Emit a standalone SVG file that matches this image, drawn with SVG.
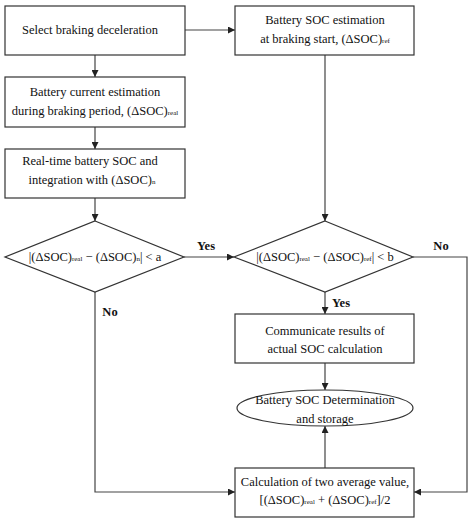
<svg xmlns="http://www.w3.org/2000/svg" width="474" height="521" viewBox="0 0 474 521">
<style>
.n{fill:#fff;stroke:#333;stroke-width:1.2}
.c{fill:none;stroke:#444;stroke-width:1.2}
text{font-family:"Liberation Serif","DejaVu Serif",serif;font-size:12.5px;fill:#111;text-anchor:middle}
.s{font-size:7px}
.b{font-weight:bold}
</style>
<defs>
<marker id="a" viewBox="0 0 10 10" refX="10" refY="5" markerWidth="7" markerHeight="7" markerUnits="userSpaceOnUse" orient="auto">
<path d="M0,0L10,5L0,10z" fill="#222"/>
</marker>
</defs>
<g id="connectors">
<path class="c" d="M185,30H235" marker-end="url(#a)"/>
<path class="c" d="M95,55V77" marker-end="url(#a)"/>
<path class="c" d="M95,127V149" marker-end="url(#a)"/>
<path class="c" d="M95,198V221" marker-end="url(#a)"/>
<path class="c" d="M325,55V221" marker-end="url(#a)"/>
<path class="c" d="M184,257H234" marker-end="url(#a)"/>
<path class="c" d="M325,292V314" marker-end="url(#a)"/>
<path class="c" d="M413,257H467V492H414" marker-end="url(#a)"/>
<path class="c" d="M95,292V492H235" marker-end="url(#a)"/>
<path class="c" d="M325,363V390" marker-end="url(#a)"/>
<path class="c" d="M325,468V426" marker-end="url(#a)"/>
<text class="b" x="206" y="250">Yes</text>
<text class="b" x="441" y="250">No</text>
<text class="b" x="341" y="307">Yes</text>
<text class="b" x="110" y="316">No</text>
</g>
<g id="n1"><rect class="n" x="5" y="6" width="180" height="49"/><text x="90" y="34">Select braking deceleration</text></g>
<g id="n2"><rect class="n" x="235" y="6" width="179" height="49"/><text x="325" y="24">Battery SOC estimation</text><text x="325" y="43">at braking start, (ΔSOC)<tspan class="s">ref</tspan></text></g>
<g id="n3"><rect class="n" x="5" y="77" width="180" height="50"/><text x="95" y="96">Battery current estimation</text><text x="95" y="115">during braking period, (ΔSOC)<tspan class="s">real</tspan></text></g>
<g id="n4"><rect class="n" x="5" y="149" width="180" height="49"/><text x="90" y="165">Real-time battery SOC and</text><text x="92" y="184">integration with (ΔSOC)<tspan class="s">n</tspan></text></g>
<g id="n5"><path class="n" d="M95,221L184,257L95,292L5,257Z"/><text x="95" y="261">|(ΔSOC)<tspan class="s">real</tspan> − (ΔSOC)<tspan class="s">n</tspan>| &lt; a</text></g>
<g id="n6"><path class="n" d="M325,221L413,257L325,292L234,257Z"/><text x="325" y="261">|(ΔSOC)<tspan class="s">real</tspan> − (ΔSOC)<tspan class="s">ref</tspan>| &lt; b</text></g>
<g id="n7"><rect class="n" x="235" y="314" width="179" height="49"/><text x="325" y="335">Communicate results of</text><text x="325" y="353">actual SOC calculation</text></g>
<g id="n8"><ellipse class="n" cx="325" cy="408" rx="88" ry="18"/><text x="325" y="404">Battery SOC Determination</text><text x="325" y="423">and storage</text></g>
<g id="n9"><rect class="n" x="235" y="468" width="179" height="49"/><text x="325" y="486">Calculation of two average value,</text><text x="325" y="504">[(ΔSOC)<tspan class="s">real</tspan> + (ΔSOC)<tspan class="s">ref</tspan>]/2</text></g>
</svg>
